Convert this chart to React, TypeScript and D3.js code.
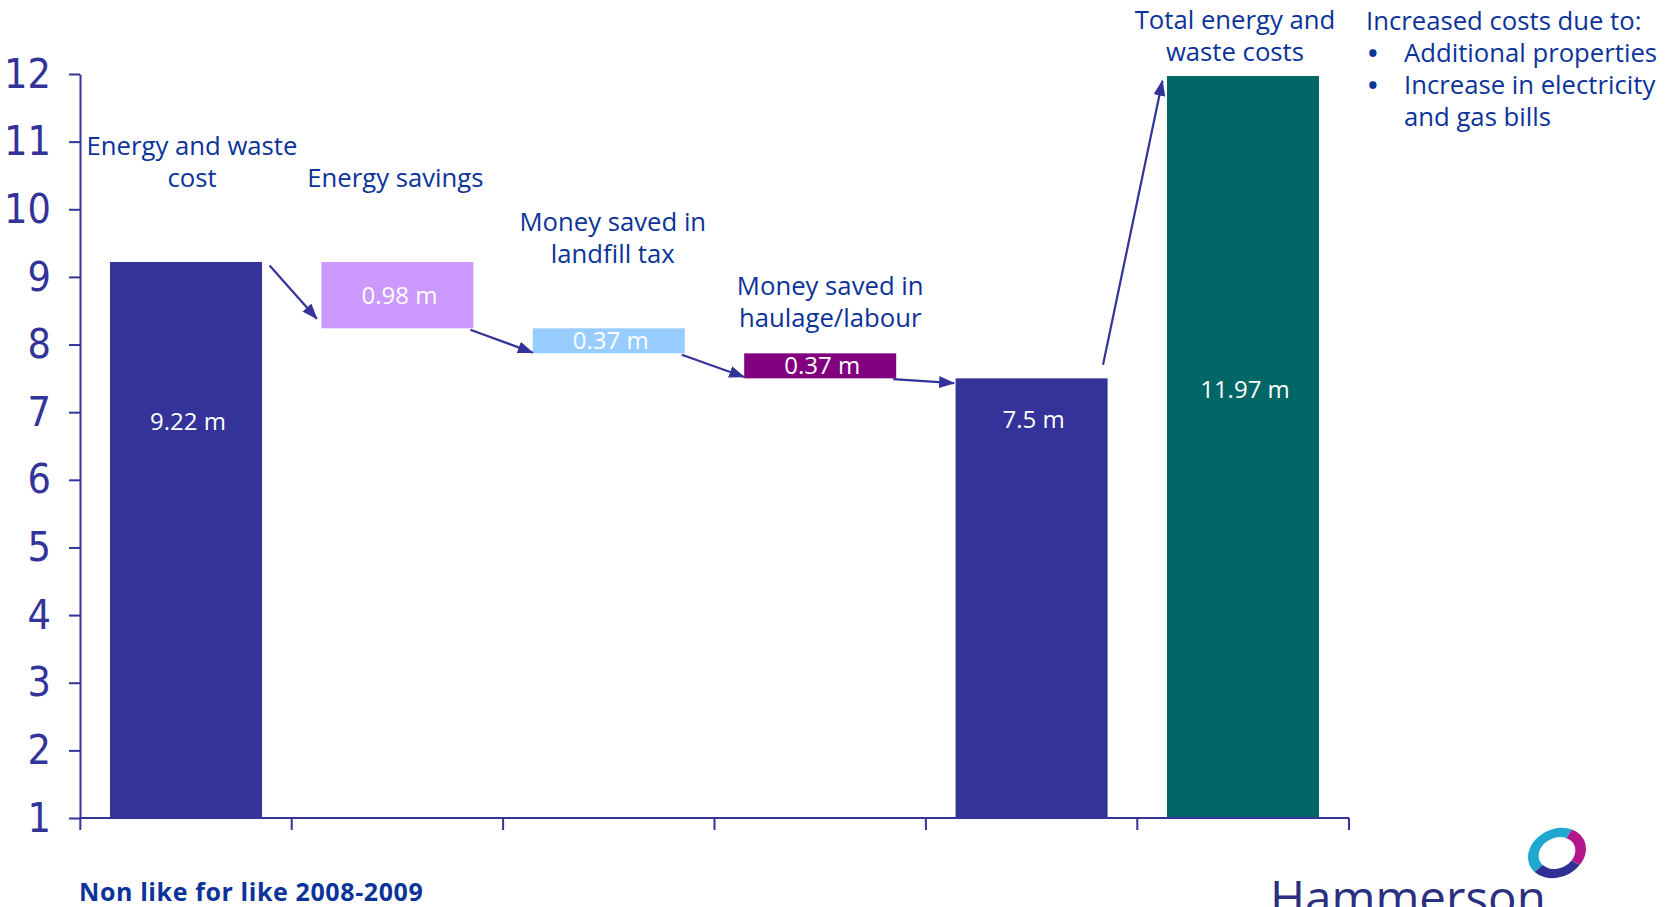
import React, { useEffect, useRef } from 'react';
import * as d3 from 'd3';

// waterfall steps, £ millions
const categories = ['start', 'energy', 'landfill', 'haulage', 'subtotal', 'total'];
const barLow = [1, 8.24, 7.87, 7.5, 1, 1];
const barHigh = [9.22, 9.22, 8.24, 7.87, 7.5, 11.97];
const barLabels = ['9.22 m', '0.98 m', '0.37 m', '0.37 m', '7.5 m', '11.97 m'];
const barColors = ['#333399', '#CC99FF', '#99CCFF', '#800080', '#333399', '#006666'];
const yTicks = [1, 2, 3, 4, 5, 6, 7, 8, 9, 10, 11, 12];

// category captions: text lines + value at which the last line sits
const captionLines = [
  ['Energy and waste', 'cost'],
  ['Energy savings'],
  ['Money saved in', 'landfill tax'],
  ['Money saved in', 'haulage/labour'],
  [],
  ['Total energy and', 'waste costs'],
];
const captionValue = [10.33, 10.33, 9.2, 8.26, 0, 12.19];
const captionShift = [6, -2, 4, 10, 0, -8];
// where the value label sits below the bar top (px), 0 = middle of bar
const labelDrop = [160, 0, 0, 0, 41, 314];

const noteTitle = 'Increased costs due to:';
const noteBullets = [['Additional properties'], ['Increase in electricity', 'and gas bills']];

// arrows between bars: [category, position across band (0..1), value]
const arrows = [
  { from: [0, 1.05, 9.17], to: [1, -0.03, 8.38] },
  { from: [1, 0.98, 8.22], to: [2, 0.0, 7.88] },
  { from: [2, 0.98, 7.85], to: [3, 0.0, 7.52] },
  { from: [3, 0.98, 7.49], to: [4, -0.01, 7.43] },
  { from: [4, 0.97, 7.7], to: [5, -0.03, 11.9] },
];

const W = 1677;
const H = 907;
const FONT = "'Open Sans', 'DejaVu Sans', sans-serif";
const TEXT = '#0B3399';
const AXIS = '#333399';

export default function App() {
  const ref = useRef<SVGSVGElement>(null);

  useEffect(() => {
    const svg = d3.select(ref.current);
    svg.selectAll('*').remove();

    const x = d3.scaleBand<string>()
      .domain(categories)
      .range([80, 1349])
      .paddingInner(0.281)
      .paddingOuter(0.142);
    const y = d3.scaleLinear().domain([1, 12]).range([818, 74]);
    const bw = x.bandwidth();
    const step = x.step();

    const defs = svg.append('defs');
    defs.append('marker')
      .attr('id', 'head')
      .attr('viewBox', '0 0 16 12')
      .attr('refX', 15)
      .attr('refY', 6)
      .attr('markerWidth', 16)
      .attr('markerHeight', 12)
      .attr('markerUnits', 'userSpaceOnUse')
      .attr('orient', 'auto')
      .append('path')
      .attr('d', 'M0,0 L16,6 L0,12 z')
      .attr('fill', AXIS);

    // bars
    svg.append('g')
      .selectAll('rect')
      .data(categories)
      .enter()
      .append('rect')
      .attr('x', d => x(d)!)
      .attr('y', (d, i) => y(barHigh[i]))
      .attr('width', bw)
      .attr('height', (d, i) => y(barLow[i]) - y(barHigh[i]))
      .attr('fill', (d, i) => barColors[i]);

    // value labels
    const labelY = (i: number) =>
      labelDrop[i] ? y(barHigh[i]) + labelDrop[i] : (y(barHigh[i]) + y(barLow[i])) / 2;
    svg.append('g')
      .selectAll('text')
      .data(categories)
      .enter()
      .append('text')
      .attr('x', d => x(d)! + bw / 2 + 2)
      .attr('y', (d, i) => labelY(i))
      .attr('dy', '0.35em')
      .attr('text-anchor', 'middle')
      .attr('fill', 'white')
      .style('font-family', FONT)
      .style('font-size', '24px')
      .text((d, i) => barLabels[i]);

    // y axis
    const yAxis = svg.append('g')
      .attr('transform', 'translate(80,0)')
      .call(d3.axisLeft(y).tickValues(yTicks).tickFormat(d3.format('d')).tickSize(11).tickSizeOuter(0).tickPadding(18));
    yAxis.select('.domain').attr('stroke', AXIS).attr('stroke-width', 2);
    yAxis.selectAll('.tick line').attr('stroke', AXIS).attr('stroke-width', 2);
    yAxis.selectAll('.tick text')
      .attr('fill', AXIS)
      .style('font-family', "'Liberation Sans Narrow', 'DejaVu Sans Condensed', sans-serif")
      .style('font-size', '41px');

    // x axis: baseline with ticks at band boundaries
    const bounds = categories.map(c => x(c)! - (step - bw) / 2).concat([x.range()[1]]);
    const xAxis = svg.append('g');
    xAxis.append('line')
      .attr('x1', 80).attr('x2', x.range()[1])
      .attr('y1', y(1)).attr('y2', y(1))
      .attr('stroke', AXIS).attr('stroke-width', 2);
    xAxis.selectAll('line.tick')
      .data(bounds)
      .enter()
      .append('line')
      .attr('class', 'tick')
      .attr('x1', d => d).attr('x2', d => d)
      .attr('y1', y(1)).attr('y2', y(1) + 12)
      .attr('stroke', AXIS).attr('stroke-width', 2);

    // arrows
    const pt = (p: number[]) => [x(categories[p[0]])! + p[1] * bw, y(p[2])];
    svg.append('g')
      .selectAll('line')
      .data(arrows)
      .enter()
      .append('line')
      .attr('x1', d => pt(d.from)[0])
      .attr('y1', d => pt(d.from)[1])
      .attr('x2', d => pt(d.to)[0])
      .attr('y2', d => pt(d.to)[1])
      .attr('stroke', AXIS)
      .attr('stroke-width', 2.2)
      .attr('marker-end', 'url(#head)');

    // captions
    captionLines.forEach((lines, i) => {
      const cx = x(categories[i])! + bw / 2 + captionShift[i];
      const base = y(captionValue[i]);
      lines.forEach((line, j) => {
        svg.append('text')
          .attr('x', cx)
          .attr('y', base - (lines.length - 1 - j) * 32)
          .attr('text-anchor', 'middle')
          .attr('fill', TEXT)
          .style('font-family', FONT)
          .style('font-size', '25.7px')
          .text(line);
      });
    });

    // side note
    const note = svg.append('g').style('font-family', FONT).style('font-size', '25.7px').attr('fill', TEXT);
    note.append('text').attr('x', 1366).attr('y', 30).text(noteTitle);
    let row = 1;
    noteBullets.forEach(lines => {
      note.append('text').attr('x', 1368).attr('y', 30 + row * 32).style('font-weight', 'bold').text('•');
      lines.forEach(line => {
        note.append('text').attr('x', 1404).attr('y', 30 + row * 32).text(line);
        row++;
      });
    });

    // footer
    svg.append('text')
      .attr('x', 79)
      .attr('y', 901)
      .attr('fill', TEXT)
      .style('font-family', FONT)
      .style('font-weight', 'bold')
      .style('font-size', '25px')
      .style('letter-spacing', '0.6px')
      .text('Non like for like 2008-2009');

    // logo
    const logo = svg.append('g');
    logo.append('text')
      .attr('x', 1270)
      .attr('y', 915)
      .attr('fill', '#2B2F80')
      .style('font-family', FONT)
      .style('font-size', '47.5px')
      .text('Hammerson');
    const ring = logo.append('g').attr('transform', 'translate(1557,853) rotate(-25)');
    const arc = d3.arc<any>().innerRadius(19).outerRadius(30);
    const segs = [
      { s: -1.9, e: 0.9, c: '#1EA8D0' },
      { s: 0.9, e: 2.6, c: '#B4168C' },
      { s: 2.6, e: 4.38, c: '#2E3192' },
    ];
    ring.selectAll('path')
      .data(segs)
      .enter()
      .append('path')
      .attr('transform', 'scale(1,0.8)')
      .attr('d', d => arc({ startAngle: d.s, endAngle: d.e }) as string)
      .attr('fill', d => d.c);
  }, []);

  return (
    <svg
      ref={ref}
      width={W}
      height={H}
      style={{ position: 'absolute', left: 0, top: 0, display: 'block', background: 'white' }}
    />
  );
}
